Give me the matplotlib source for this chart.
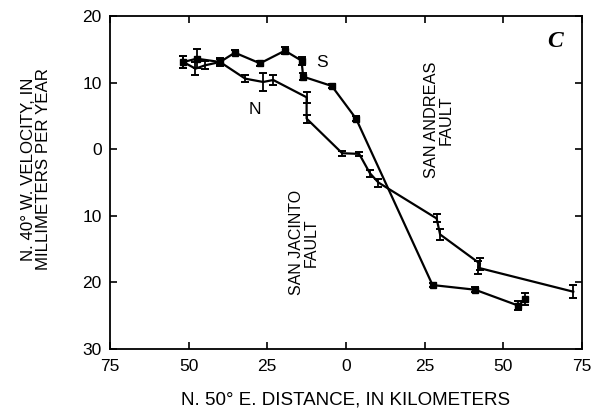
import matplotlib
matplotlib.use("Agg")
import matplotlib.pyplot as plt
from matplotlib.ticker import FuncFormatter

plt.rcParams['font.family'] = ['Liberation Sans', 'DejaVu Sans']

# Series S (southern profile)
s_dist = [-51.7, -47.4, -40.0, -35.3, -27.3, -19.4, -14.1, -13.6, -4.5, 3.2, 27.5, 41.0, 54.8, 56.8]
s_vel = [13.1, 13.6, 13.1, 14.5, 12.9, 14.8, 13.3, 10.9, 9.5, 4.6, -20.4, -21.1, -23.5, -22.5]
s_err = [0.9, 1.4, 0.5, 0.4, 0.4, 0.5, 0.6, 0.5, 0.3, 0.4, 0.3, 0.4, 0.7, 0.9]

# Series N (northern profile)
n_dist = [-51.7, -47.8, -44.8, -40.0, -32.0, -26.3, -23.1, -12.5, -12.5, -1.2, 4.2, 7.6, 10.3, 28.8, 29.9, 42.6, 42.0, 72.2]
n_vel = [13.1, 12.1, 12.6, 13.1, 10.6, 10.1, 10.4, 7.8, 4.6, -0.6, -0.7, -3.6, -5.0, -10.4, -12.8, -17.2, -17.8, -21.4]
n_err = [0.9, 1.0, 0.6, 0.6, 0.5, 1.4, 0.8, 0.8, 0.6, 0.4, 0.3, 0.5, 0.6, 0.6, 0.8, 0.9, 1.0, 1.0]

x_ticks = [-75, -50, -25, 0, 25, 50, 75]
y_ticks = [20, 10, 0, -10, -20, -30]

fig = plt.figure(figsize=(5.97, 4.12), dpi=100)
ax = fig.add_axes([0.184, 0.153, 0.791, 0.808])

ax.errorbar(s_dist, s_vel, yerr=s_err, color='black', lw=1.6, marker='s', ms=3.8,
            capsize=3, elinewidth=1.3, capthick=1.4)
ax.errorbar(n_dist, n_vel, yerr=n_err, color='black', lw=1.6, marker='',
            capsize=3, elinewidth=1.3, capthick=1.4)

ax.set_xlim(-75, 75)
ax.set_ylim(-30, 20)
ax.set_xticks(x_ticks)
ax.set_yticks(y_ticks)
fmt = FuncFormatter(lambda v, p: f"{abs(int(round(v)))}")
ax.xaxis.set_major_formatter(fmt)
ax.yaxis.set_major_formatter(fmt)
ax.tick_params(direction='in', length=5, width=1.2, top=True, right=True,
               labelsize=12.5)
ax.tick_params(axis='x', pad=7)
ax.tick_params(axis='y', pad=6)
for sp in ax.spines.values():
    sp.set_linewidth(1.3)

ax.set_xlabel("N. 50° E. DISTANCE, IN KILOMETERS", fontsize=13.5, labelpad=13)
ax.set_ylabel("N. 40° W. VELOCITY, IN\nMILLIMETERS PER YEAR", fontsize=12.2,
              linespacing=1.0)
ax.yaxis.set_label_coords(-0.125, 0.54)

ax.text(-7.6, 13.1, "S", fontsize=12.5, ha='center', va='center')
ax.text(-29, 5.9, "N", fontsize=12.5, ha='center', va='center')
ax.text(-13.3, -14, "SAN JACINTO\nFAULT", fontsize=11.5, rotation=90, ha='center',
        va='center', linespacing=1.0)
ax.text(29.5, 4.4, "SAN ANDREAS\nFAULT", fontsize=11.8, rotation=90, ha='center',
        va='center', linespacing=1.0)
ax.text(66.5, 16.2, "C", fontsize=17, fontweight='bold', fontstyle='italic',
        family='Liberation Serif', ha='center', va='center')

fig.savefig("out.png", dpi=100)
